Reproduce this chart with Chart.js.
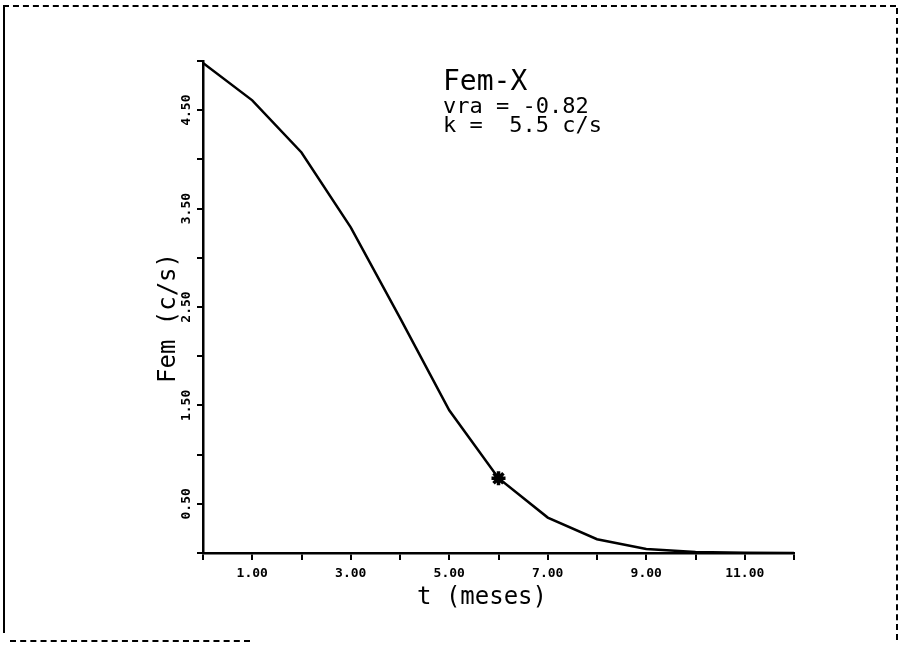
<!DOCTYPE html>
<html>
<head>
<meta charset="utf-8">
<script src="https://cdn.jsdelivr.net/npm/chart.js@4/dist/chart.umd.min.js"></script>
<style>
html,body{margin:0;padding:0;background:#fff;}
#wrap{position:relative;width:902px;height:654px;overflow:hidden;}
canvas{position:absolute;left:0;top:0;}
.b{position:absolute;pointer-events:none;}
</style>
</head>
<body>
<div id="wrap">
<canvas id="c" width="902" height="654"></canvas>
<div class="b" style="left:3px;top:5px;width:2px;height:628px;background:#000"></div>
<div class="b" style="left:3px;top:5px;width:893px;height:0;border-top:2px dashed #000"></div>
<div class="b" style="left:896px;top:8px;width:0;height:632px;border-left:2px dashed #000"></div>
<div class="b" style="left:10px;top:640px;width:240px;height:0;border-top:2px dashed #000"></div>
</div>
<script>
// ---- data ----
const months = [0, 1, 2, 3, 4, 5, 6, 7, 8, 9, 10, 11, 12];
const fem    = [4.98, 4.60, 4.07, 3.31, 2.39, 1.45, 0.76, 0.36, 0.14, 0.04, 0.01, 0.003, 0];
const markerMonth = 6;
const xTickLabels = ['1.00', '3.00', '5.00', '7.00', '9.00', '11.00'];
const yTickValues = [0.5, 1.5, 2.5, 3.5, 4.5];
const yTickLabels = ['0.50', '1.50', '2.50', '3.50', '4.50'];
const xTitle = 't (meses)';
const yTitle = 'Fem (c/s)';
const noteLines = ['Fem-X', 'vra = -0.82', 'k =  5.5 c/s'];

const MONO = '"DejaVu Sans Mono", "Liberation Mono", monospace';

const textPlugin = {
  id: 'texts',
  afterDraw(chart) {
    const ctx = chart.ctx;
    const ys = chart.scales.y;
    ctx.save();
    ctx.fillStyle = '#000';
    // rotated y tick labels
    ctx.font = 'bold 13px ' + MONO;
    ctx.textAlign = 'center';
    ctx.textBaseline = 'middle';
    yTickValues.forEach((v, i) => {
      ctx.save();
      ctx.translate(ys.left + ys.width - 16, ys.getPixelForValue(v));
      ctx.rotate(-Math.PI / 2);
      ctx.fillText(yTickLabels[i], 0, 0);
      ctx.restore();
    });
    // y title
    ctx.font = '24px ' + MONO;
    ctx.save();
    ctx.translate(169, 318);
    ctx.rotate(-Math.PI / 2);
    ctx.fillText(yTitle, 0, 0);
    ctx.restore();
    // x title
    ctx.fillText(xTitle, 482, 598);
    // annotation
    ctx.textAlign = 'left';
    ctx.textBaseline = 'alphabetic';
    ctx.font = '28px ' + MONO;
    ctx.fillText(noteLines[0], 443, 90);
    ctx.font = '22px ' + MONO;
    ctx.fillText(noteLines[1], 443, 113);
    ctx.fillText(noteLines[2], 443, 132);
    ctx.restore();
  }
};

new Chart(document.getElementById('c'), {
  type: 'line',
  data: {
    datasets: [{
      data: months.map((m, i) => ({ x: m, y: fem[i] })),
      borderColor: '#000',
      borderWidth: 2.5,
      tension: 0,
      fill: false,
      pointStyle: 'star',
      pointRadius: ctx => months[ctx.dataIndex] === markerMonth ? 7 : 0,
      pointBorderWidth: 3.5,
      pointBorderColor: '#000',
      pointBackgroundColor: '#000'
    }]
  },
  options: {
    responsive: false,
    animation: false,
    layout: { padding: { left: 0, top: 61, right: 108, bottom: 0 } },
    plugins: { legend: { display: false }, tooltip: { enabled: false } },
    scales: {
      x: {
        type: 'linear', min: 0, max: 12,
        afterFit: s => { s.height = 101; },
        ticks: {
          stepSize: 1, autoSkip: false, maxRotation: 0, color: '#000', padding: 6,
          font: { family: MONO, size: 13, weight: 'bold' },
          callback: v => (v % 2 === 1 ? xTickLabels[(v - 1) / 2] : '')
        },
        grid: { display: true, drawOnChartArea: false, drawTicks: true, tickLength: 7, color: '#000', lineWidth: 2 },
        border: { display: true, color: '#000', width: 2.5 }
      },
      y: {
        min: 0, max: 5,
        afterFit: s => { s.width = 203; },
        ticks: { stepSize: 0.5, color: '#000', callback: () => '' },
        grid: { display: true, drawOnChartArea: false, drawTicks: true, tickLength: 6, color: '#000', lineWidth: 2 },
        border: { display: true, color: '#000', width: 2.5 }
      }
    }
  },
  plugins: [textPlugin]
});
</script>
</body>
</html>
